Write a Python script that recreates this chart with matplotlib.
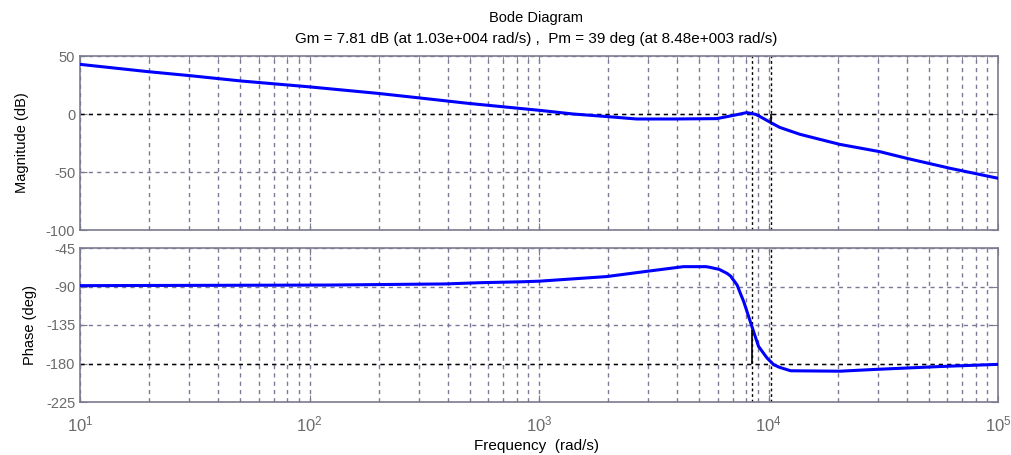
import numpy as np
import matplotlib
matplotlib.use('Agg')
import matplotlib.pyplot as plt

plt.rcParams['font.family'] = ['Liberation Sans', 'DejaVu Sans']
plt.rcParams['axes.unicode_minus'] = False

# Datos
mag_freq = [10, 19.8, 30.3, 50.7, 98.6, 198, 297, 490, 1000, 1409, 2004, 2662,
            3845, 5943, 7030, 8040, 8790, 9200, 10320, 11180, 12800, 13710,
            16090, 20470, 30600, 40000, 61800, 100000]
mag_db = [42.8, 36.5, 33.0, 28.4, 23.5, 17.8, 14.0, 9.2, 3.2, 0.0, -2.3, -4.3,
          -4.3, -4.0, -1.2, 1.2, -0.3, -2.3, -7.8, -11.5, -15.5, -17.5,
          -21.0, -26.2, -32.5, -38.2, -46.8, -55.4]

ph_freq = [10, 120, 390, 565, 840, 1000, 1970, 2960, 4260, 5330, 5510, 6100,
           6610, 6830, 7300, 7540, 7800, 8330, 8610, 9050, 9860, 10550, 11180,
           12490, 20500, 28700, 56400, 100000]
ph_deg = [-89.0, -88.3, -87.0, -85.5, -84.5, -83.8, -78.4, -72.2, -66.8, -66.8,
          -67.4, -70.0, -74.8, -77.7, -88.3, -98.0, -107.7, -131.0, -142.7,
          -160.0, -173.7, -181.5, -184.5, -188.5, -189.0, -187.0, -183.5, -181.0]

# Margenes
gm_db = 7.81
w_gm = 1.03e4
pm_deg = 39
w_pm = 8.48e3

mag_ticks = [-100, -50, 0, 50]
ph_ticks = [-225, -180, -135, -90, -45]

grid_col = '#7a7a96'
frame_col = '#7c7c90'
tick_col = '#6a6a6a'

fig = plt.figure(figsize=(10.11, 4.55), dpi=100)
ax1 = fig.add_axes([80 / 1011, 1 - 230 / 455, 918 / 1011, 174 / 455])
ax2 = fig.add_axes([80 / 1011, 1 - 402 / 455, 918 / 1011, 154 / 455])


def estilo(ax, yticks, ylim, ref):
    ax.set_xscale('log')
    ax.set_xlim(10, 1e5)
    ax.set_ylim(*ylim)
    ax.set_yticks(yticks)
    ax.grid(True, which='both', axis='x', color=grid_col, linestyle=(0, (3, 3)), linewidth=1)
    ax.grid(True, which='major', axis='y', color=grid_col, linestyle=(0, (3, 3)), linewidth=1)
    ax.axhline(ref, color='black', linestyle=(0, (3, 3)), linewidth=1, zorder=2)
    for s in ax.spines.values():
        s.set_color(frame_col)
        s.set_linewidth(1.2)
    ax.tick_params(which='both', direction='in', colors=frame_col, labelcolor=tick_col,
                   labelsize=10.5, top=True, right=True)
    ax.tick_params(which='major', length=5)
    ax.tick_params(which='minor', length=3)
    ax.axvline(w_pm, color='black', linestyle=(0, (2, 2)), linewidth=1, zorder=2)
    ax.axvline(w_gm, color='black', linestyle=(0, (2, 2)), linewidth=1, zorder=2)


estilo(ax1, mag_ticks, (-100, 50), 0)
estilo(ax2, ph_ticks, (-225, -45), -180)

ax1.plot(mag_freq, mag_db, color='#0000ff', linewidth=2.2, zorder=3)
ax1.vlines(w_gm, -gm_db, 0, color='black', linewidth=1.2, zorder=4)
ax1.tick_params(labelbottom=False)
ax1.set_ylabel('Magnitude (dB)', fontsize=10.5, labelpad=12)

ax2.plot(ph_freq, ph_deg, color='#0000ff', linewidth=2.2, zorder=3)
ax2.vlines(w_pm, -180, -180 + pm_deg, color='black', linewidth=1.2, zorder=4)
ax2.set_ylabel('Phase (deg)', fontsize=10.5, labelpad=6)
ax2.set_xticks([1e1, 1e2, 1e3, 1e4, 1e5])
ax2.set_xticklabels([r'$\mathregular{10^{%d}}$' % e for e in range(1, 6)])
ax2.tick_params(axis='x', which='major', pad=9, labelsize=12)

fig.text(0.5305, 1 - 18 / 455, 'Bode Diagram', ha='center', va='center', fontsize=10.5)
fig.text(0.5305, 1 - 39 / 455,
         'Gm = 7.81 dB (at 1.03e+004 rad/s) ,  Pm = 39 deg (at 8.48e+003 rad/s)',
         ha='center', va='center', fontsize=11)
fig.text(0.5305, 1 - 446 / 455, 'Frequency  (rad/s)', ha='center', va='center', fontsize=11)

fig.savefig('out.png', dpi=100)
